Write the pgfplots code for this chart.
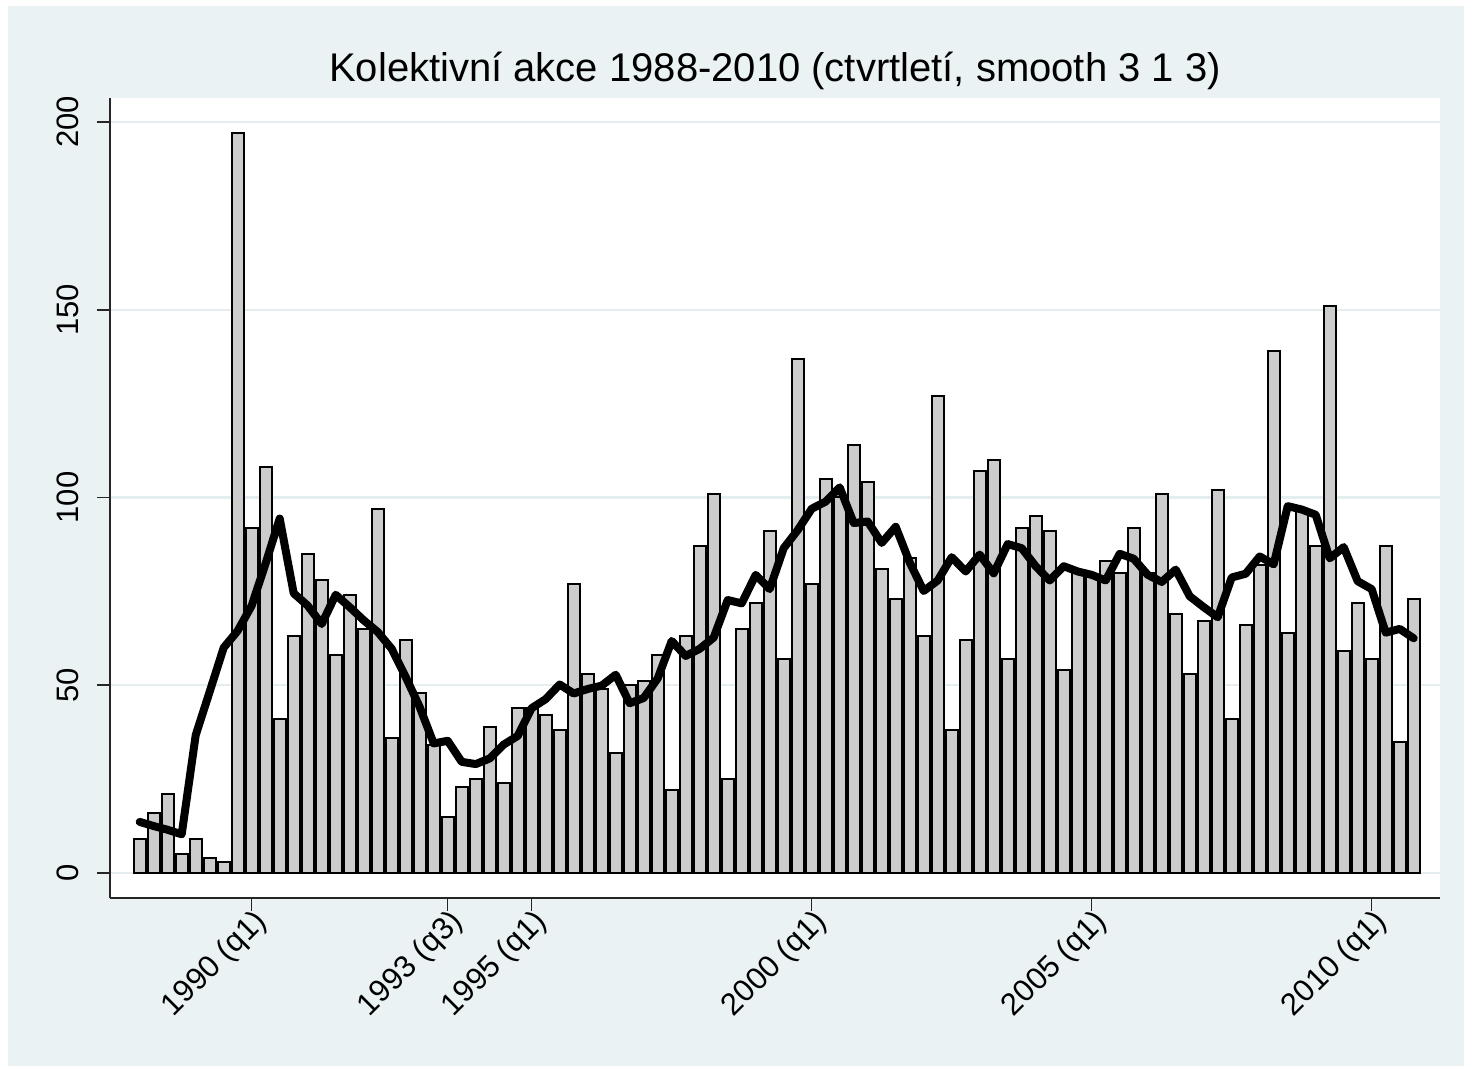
\documentclass[border=0pt]{standalone}
\usepackage{pgfplots}
\pgfplotsset{compat=1.18}
\usepackage{pgfplotstable}
\usepackage{fontspec}
\setmainfont{Liberation Sans}
\definecolor{stbg}{RGB}{234,242,243}
\definecolor{stgrid}{RGB}{228,238,240}
\definecolor{bargray}{RGB}{204,204,204}

\pgfplotstableread{
i bar sm
0 9 13.6
1 16 12.5
2 21 11.5
3 5 10.3
4 9 36.7
5 4 48.3
6 3 60.0
7 197 64.5
8 92 71.2
9 108 82.5
10 41 94.4
11 63 74.5
12 85 71.2
13 78 66.3
14 58 74.1
15 74 70.8
16 65 67.3
17 97 64.2
18 36 59.7
19 62 52.2
20 48 44.2
21 34 34.5
22 15 35.2
23 23 29.6
24 25 29.0
25 39 30.5
26 24 34.2
27 44 36.5
28 44 43.9
29 42 46.3
30 38 50.2
31 77 47.8
32 53 49.0
33 49 49.9
34 32 52.8
35 50 45.2
36 51 46.6
37 58 51.8
38 22 61.8
39 63 57.8
40 87 59.7
41 101 62.7
42 25 72.7
43 65 71.8
44 72 79.4
45 91 75.6
46 57 86.5
47 137 91.3
48 77 97.0
49 105 98.9
50 100 102.7
51 114 93.2
52 104 93.6
53 81 87.9
54 73 92.2
55 84 82.7
56 63 75.1
57 127 77.9
58 38 84.1
59 62 80.3
60 107 84.8
61 110 79.8
62 57 87.6
63 92 86.5
64 95 81.7
65 91 77.9
66 54 81.7
67 80 80.3
68 79 79.4
69 83 77.9
70 80 85.0
71 92 83.7
72 80 79.4
73 101 77.5
74 69 80.8
75 53 73.7
76 67 70.8
77 102 68.1
78 41 78.7
79 66 79.7
80 82 84.3
81 139 82.2
82 64 97.7
83 97 96.8
84 87 95.4
85 151 83.8
86 59 86.8
87 72 77.7
88 57 75.6
89 87 64.0
90 35 65.0
91 73 62.5
}\datatable

\begin{document}
\begin{tikzpicture}
\useasboundingbox (0,0) rectangle (737pt,534.5pt);
\fill[white] (0,0) rectangle (737pt,534.5pt);
\fill[stbg] (4pt,1.5pt) rectangle (732pt,531.5pt);
\node[anchor=base, inner sep=0pt, font=\fontsize{20}{24}\selectfont] at (387.5pt,493.5pt) {Kolektivní akce 1988-2010 (ctvrtletí, smooth 3 1 3)};
\begin{axis}[
  at={(55pt,85.5pt)}, anchor=south west,
  scale only axis, width=665pt, height=400pt,
  xmin=-2.121, xmax=92.88, ymin=-6.66, ymax=206.4,
  axis background/.style={fill=white},
  axis x line*=bottom, axis y line*=left,
  axis line style={line width=0.8pt, black!85},
  tick style={line width=0.8pt, black!85},
  tick align=outside, major tick length=6.5pt,
  ytick={0,50,100,150,200},
  ymajorgrids, grid style={stgrid, line width=1.1pt},
  xtick={8,22,28,48,68,88},
  xticklabels={1990 (q1),1993 (q3),1995 (q1),2000 (q1),2005 (q1),2010 (q1)},
  xticklabel style={rotate=45, anchor=north east, inner sep=1pt, font=\fontsize{15.5}{18}\selectfont},
  xticklabel shift=-3.5pt,
  yticklabel style={rotate=90, anchor=south, inner sep=1pt, font=\fontsize{15.5}{18}\selectfont},
  yticklabel shift=8pt,
  /pgf/number format/assume math mode=true,
  clip=false,
]
\addplot[ybar, bar width=0.84, fill=bargray, draw=black, line width=1pt] table[x=i,y=bar] {\datatable};
\addplot[black, line width=4pt, line join=round, line cap=round, mark=none] table[x=i,y=sm] {\datatable};
\end{axis}
\end{tikzpicture}
\end{document}
